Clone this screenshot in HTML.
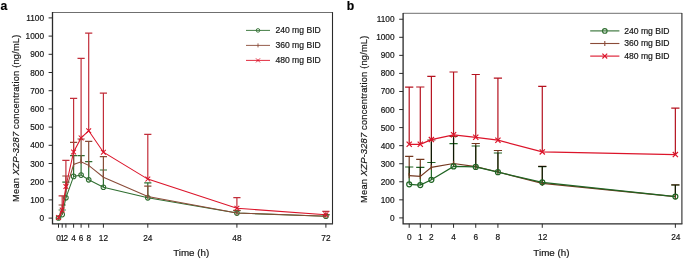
<!DOCTYPE html>
<html><head><meta charset="utf-8"><title>Figure</title>
<style>
html,body{margin:0;padding:0;background:#fff;}
body{width:685px;height:259px;overflow:hidden;}
svg{display:block;font-family:"Liberation Sans",sans-serif;filter:blur(0.4px);}
.tk{font-size:8.3px;}
.ax{font-size:9.8px;}
.yl{font-size:9.3px;letter-spacing:0.19px;}
.lg{font-size:8.6px;}
.pl{font-size:12.2px;font-weight:bold;fill:#000;}
.mb{mix-blend-mode:multiply;}
text{fill:#151515;stroke:#151515;stroke-width:0.18px;}
</style></head><body>
<svg width="685" height="259" viewBox="0 0 685 259">
<rect width="685" height="259" fill="#fff"/>
<path fill="none" stroke="#555" stroke-width="0.85" d="M52.5 12.5H332.5"/>
<path fill="none" stroke="#2a2a2a" stroke-width="1.1" d="M332.5 12.1V223.8"/>
<path fill="none" stroke="#2a2a2a" stroke-width="1.3" d="M52.5 12.1V223.8H333.05"/>
<path stroke="#2a2a2a" stroke-width="1" d="M48.6 218.1H52.5"/>
<text transform="translate(44 221.1) scale(1 1.06)" text-anchor="end" class="tk">0</text>
<path stroke="#2a2a2a" stroke-width="1" d="M48.6 199.9H52.5"/>
<text transform="translate(44 202.9) scale(1 1.06)" text-anchor="end" class="tk">100</text>
<path stroke="#2a2a2a" stroke-width="1" d="M48.6 181.7H52.5"/>
<text transform="translate(44 184.7) scale(1 1.06)" text-anchor="end" class="tk">200</text>
<path stroke="#2a2a2a" stroke-width="1" d="M48.6 163.5H52.5"/>
<text transform="translate(44 166.5) scale(1 1.06)" text-anchor="end" class="tk">300</text>
<path stroke="#2a2a2a" stroke-width="1" d="M48.6 145.3H52.5"/>
<text transform="translate(44 148.3) scale(1 1.06)" text-anchor="end" class="tk">400</text>
<path stroke="#2a2a2a" stroke-width="1" d="M48.6 127.1H52.5"/>
<text transform="translate(44 130.1) scale(1 1.06)" text-anchor="end" class="tk">500</text>
<path stroke="#2a2a2a" stroke-width="1" d="M48.6 108.9H52.5"/>
<text transform="translate(44 111.9) scale(1 1.06)" text-anchor="end" class="tk">600</text>
<path stroke="#2a2a2a" stroke-width="1" d="M48.6 90.7H52.5"/>
<text transform="translate(44 93.7) scale(1 1.06)" text-anchor="end" class="tk">700</text>
<path stroke="#2a2a2a" stroke-width="1" d="M48.6 72.5H52.5"/>
<text transform="translate(44 75.5) scale(1 1.06)" text-anchor="end" class="tk">800</text>
<path stroke="#2a2a2a" stroke-width="1" d="M48.6 54.3H52.5"/>
<text transform="translate(44 57.3) scale(1 1.06)" text-anchor="end" class="tk">900</text>
<path stroke="#2a2a2a" stroke-width="1" d="M48.6 36.1H52.5"/>
<text transform="translate(44 39.1) scale(1 1.06)" text-anchor="end" class="tk">1000</text>
<path stroke="#2a2a2a" stroke-width="1" d="M48.6 17.9H52.5"/>
<text transform="translate(44 20.9) scale(1 1.06)" text-anchor="end" class="tk">1100</text>
<path stroke="#2a2a2a" stroke-width="1" d="M58.5 223.8V227.7"/>
<path stroke="#2a2a2a" stroke-width="1" d="M62.2 223.8V227.7"/>
<path stroke="#2a2a2a" stroke-width="1" d="M65.9 223.8V227.7"/>
<path stroke="#2a2a2a" stroke-width="1" d="M73.6 223.8V227.7"/>
<path stroke="#2a2a2a" stroke-width="1" d="M81.1 223.8V227.7"/>
<path stroke="#2a2a2a" stroke-width="1" d="M88.7 223.8V227.7"/>
<path stroke="#2a2a2a" stroke-width="1" d="M103.4 223.8V227.7"/>
<path stroke="#2a2a2a" stroke-width="1" d="M147.8 223.8V227.7"/>
<path stroke="#2a2a2a" stroke-width="1" d="M236.9 223.8V227.7"/>
<path stroke="#2a2a2a" stroke-width="1" d="M325.9 223.8V227.7"/>
<path fill="none" stroke="#2f6e30" stroke-width="1.2" d="M62.2 214.6V210M58.6 210H65.8"/>
<path fill="none" stroke="#2f6e30" stroke-width="1.2" d="M65.9 197.8V182.1M62.3 182.1H69.5"/>
<path fill="none" stroke="#2f6e30" stroke-width="1.2" d="M73.6 176.4V155.7M70 155.7H77.2"/>
<path fill="none" stroke="#2f6e30" stroke-width="1.2" d="M81.1 175.1V155.6M77.5 155.6H84.7"/>
<path fill="none" stroke="#2f6e30" stroke-width="1.2" d="M88.7 179.8V161.7M85.1 161.7H92.3"/>
<path fill="none" stroke="#2f6e30" stroke-width="1.2" d="M103.4 187.2V170M99.8 170H107"/>
<path fill="none" stroke="#2f6e30" stroke-width="1.2" d="M147.8 197.8V182.9M144.2 182.9H151.4"/>
<path fill="none" stroke="#2f6e30" stroke-width="1.2" d="M236.9 213.1V210.6M233.3 210.6H240.5"/>
<path fill="none" stroke="#2f6e30" stroke-width="1.2" d="M325.9 216.2V214.8M322.3 214.8H329.5"/>
<path fill="none" stroke="#8a4b38" stroke-width="1.2" d="M62.2 212V205M58.6 205H65.8"/>
<path fill="none" stroke="#8a4b38" stroke-width="1.2" d="M65.9 190V176M62.3 176H69.5"/>
<path fill="none" stroke="#8a4b38" stroke-width="1.2" d="M73.6 164.5V142.4M70 142.4H77.2"/>
<path fill="none" stroke="#8a4b38" stroke-width="1.2" d="M81.1 161.7V139M77.5 139H84.7"/>
<path fill="none" stroke="#8a4b38" stroke-width="1.2" d="M88.7 165.4V141.4M85.1 141.4H92.3"/>
<path fill="none" stroke="#8a4b38" stroke-width="1.2" d="M103.4 177.2V156.6M99.8 156.6H107"/>
<path fill="none" stroke="#8a4b38" stroke-width="1.2" d="M147.8 196.6V186.1M144.2 186.1H151.4"/>
<path fill="none" stroke="#8a4b38" stroke-width="1.2" d="M236.9 213V210.4M233.3 210.4H240.5"/>
<path fill="none" stroke="#8a4b38" stroke-width="1.2" d="M325.9 216.2V214.5M322.3 214.5H329.5"/>
<path fill="none" stroke="#c22e3a" stroke-width="1.2" d="M62.2 210V195.8M58.6 195.8H65.8"/>
<path fill="none" stroke="#c22e3a" stroke-width="1.2" d="M65.9 186.5V160.3M62.3 160.3H69.5"/>
<path fill="none" stroke="#c22e3a" stroke-width="1.2" d="M73.6 152V98.4M70 98.4H77.2"/>
<path fill="none" stroke="#c22e3a" stroke-width="1.2" d="M81.1 137.9V58.4M77.5 58.4H84.7"/>
<path fill="none" stroke="#c22e3a" stroke-width="1.2" d="M88.7 130.8V33.2M85.1 33.2H92.3"/>
<path fill="none" stroke="#c22e3a" stroke-width="1.2" d="M103.4 152.2V93.2M99.8 93.2H107"/>
<path fill="none" stroke="#c22e3a" stroke-width="1.2" d="M147.8 179.1V134.4M144.2 134.4H151.4"/>
<path fill="none" stroke="#c22e3a" stroke-width="1.2" d="M236.9 208.3V197.6M233.3 197.6H240.5"/>
<path fill="none" stroke="#c22e3a" stroke-width="1.2" d="M325.9 214.7V211.3M322.3 211.3H329.5"/>
<polyline fill="none" stroke="#2f6e30" stroke-width="1.05" points="58.5,218 62.2,214.6 65.9,197.8 73.6,176.4 81.1,175.1 88.7,179.8 103.4,187.2 147.8,197.8 236.9,213.1 325.9,216.2"/>
<circle cx="58.5" cy="218" r="2.3" fill="none" stroke="#2f6e30" stroke-width="1.05"/>
<circle cx="62.2" cy="214.6" r="2.3" fill="none" stroke="#2f6e30" stroke-width="1.05"/>
<circle cx="65.9" cy="197.8" r="2.3" fill="none" stroke="#2f6e30" stroke-width="1.05"/>
<circle cx="73.6" cy="176.4" r="2.3" fill="none" stroke="#2f6e30" stroke-width="1.05"/>
<circle cx="81.1" cy="175.1" r="2.3" fill="none" stroke="#2f6e30" stroke-width="1.05"/>
<circle cx="88.7" cy="179.8" r="2.3" fill="none" stroke="#2f6e30" stroke-width="1.05"/>
<circle cx="103.4" cy="187.2" r="2.3" fill="none" stroke="#2f6e30" stroke-width="1.05"/>
<circle cx="147.8" cy="197.8" r="2.3" fill="none" stroke="#2f6e30" stroke-width="1.05"/>
<circle cx="236.9" cy="213.1" r="2.3" fill="none" stroke="#2f6e30" stroke-width="1.05"/>
<circle cx="325.9" cy="216.2" r="2.3" fill="none" stroke="#2f6e30" stroke-width="1.05"/>
<polyline fill="none" stroke="#8a4b38" stroke-width="1.05" points="58.5,217.8 62.2,212 65.9,190 73.6,164.5 81.1,161.7 88.7,165.4 103.4,177.2 147.8,196.6 236.9,213 325.9,216.2"/>
<path stroke="#8a4b38" stroke-width="1.05" d="M58.5 215.4V220.2"/>
<path stroke="#8a4b38" stroke-width="1.05" d="M62.2 209.6V214.4"/>
<path stroke="#8a4b38" stroke-width="1.05" d="M65.9 187.6V192.4"/>
<path stroke="#8a4b38" stroke-width="1.05" d="M73.6 162.1V166.9"/>
<path stroke="#8a4b38" stroke-width="1.05" d="M81.1 159.3V164.1"/>
<path stroke="#8a4b38" stroke-width="1.05" d="M88.7 163V167.8"/>
<path stroke="#8a4b38" stroke-width="1.05" d="M103.4 174.8V179.6"/>
<path stroke="#8a4b38" stroke-width="1.05" d="M147.8 194.2V199"/>
<path stroke="#8a4b38" stroke-width="1.05" d="M236.9 210.6V215.4"/>
<path stroke="#8a4b38" stroke-width="1.05" d="M325.9 213.8V218.6"/>
<polyline fill="none" stroke="#dc142a" stroke-width="1.05" points="58.5,217.5 62.2,210 65.9,186.5 73.6,152 81.1,137.9 88.7,130.8 103.4,152.2 147.8,179.1 236.9,208.3 325.9,214.7"/>
<path stroke="#dc142a" stroke-width="1.05" d="M56.1 215.1L60.9 219.9M56.1 219.9L60.9 215.1"/>
<path stroke="#dc142a" stroke-width="1.05" d="M59.8 207.6L64.6 212.4M59.8 212.4L64.6 207.6"/>
<path stroke="#dc142a" stroke-width="1.05" d="M63.5 184.1L68.3 188.9M63.5 188.9L68.3 184.1"/>
<path stroke="#dc142a" stroke-width="1.05" d="M71.2 149.6L76 154.4M71.2 154.4L76 149.6"/>
<path stroke="#dc142a" stroke-width="1.05" d="M78.7 135.5L83.5 140.3M78.7 140.3L83.5 135.5"/>
<path stroke="#dc142a" stroke-width="1.05" d="M86.3 128.4L91.1 133.2M86.3 133.2L91.1 128.4"/>
<path stroke="#dc142a" stroke-width="1.05" d="M101 149.8L105.8 154.6M101 154.6L105.8 149.8"/>
<path stroke="#dc142a" stroke-width="1.05" d="M145.4 176.7L150.2 181.5M145.4 181.5L150.2 176.7"/>
<path stroke="#dc142a" stroke-width="1.05" d="M234.5 205.9L239.3 210.7M234.5 210.7L239.3 205.9"/>
<path stroke="#dc142a" stroke-width="1.05" d="M323.5 212.3L328.3 217.1M323.5 217.1L328.3 212.3"/>
<text transform="translate(58.5 240.5) scale(1 1.06)" text-anchor="middle" class="tk">0</text>
<text transform="translate(62.2 240.5) scale(1 1.06)" text-anchor="middle" class="tk">1</text>
<text transform="translate(65.9 240.5) scale(1 1.06)" text-anchor="middle" class="tk">2</text>
<text transform="translate(73.6 240.5) scale(1 1.06)" text-anchor="middle" class="tk">4</text>
<text transform="translate(81.1 240.5) scale(1 1.06)" text-anchor="middle" class="tk">6</text>
<text transform="translate(88.7 240.5) scale(1 1.06)" text-anchor="middle" class="tk">8</text>
<text transform="translate(103.4 240.5) scale(1 1.06)" text-anchor="middle" class="tk">12</text>
<text transform="translate(147.8 240.5) scale(1 1.06)" text-anchor="middle" class="tk">24</text>
<text transform="translate(236.9 240.5) scale(1 1.06)" text-anchor="middle" class="tk">48</text>
<text transform="translate(325.9 240.5) scale(1 1.06)" text-anchor="middle" class="tk">72</text>
<text x="191.2" y="255.5" text-anchor="middle" class="ax">Time (h)</text>
<text transform="translate(19.3 118.2) rotate(-90)" text-anchor="middle" class="yl">Mean <tspan font-style="italic">XZP-3287</tspan> concentration (ng/mL)</text>
<text x="0.6" y="10" class="pl">a</text>
<path stroke="#2f6e30" stroke-width="0.9" d="M246 30.4H270"/>
<circle cx="258" cy="30.4" r="1.8" fill="none" stroke="#2f6e30" stroke-width="0.9"/>
<text x="275.4" y="33.15" class="lg">240 mg BID</text>
<path stroke="#8a4b38" stroke-width="0.9" d="M246 45.4H270"/>
<path stroke="#8a4b38" stroke-width="0.9" d="M258 43.4V47.4"/>
<text x="275.4" y="48.15" class="lg">360 mg BID</text>
<path stroke="#dc142a" stroke-width="0.9" d="M246 60.4H270"/>
<path stroke="#dc142a" stroke-width="0.9" d="M256 58.4L260 62.4M256 62.4L260 58.4"/>
<text x="275.4" y="63.15" class="lg">480 mg BID</text>
<path fill="none" stroke="#555" stroke-width="0.85" d="M403.1 13.3H681.9"/>
<path fill="none" stroke="#2a2a2a" stroke-width="1.1" d="M681.9 12.9V223.8"/>
<path fill="none" stroke="#2a2a2a" stroke-width="1.3" d="M403.1 12.9V223.8H682.45"/>
<path stroke="#2a2a2a" stroke-width="1" d="M399.2 217.9H403.1"/>
<text transform="translate(394.6 220.9) scale(1 1.06)" text-anchor="end" class="tk">0</text>
<path stroke="#2a2a2a" stroke-width="1" d="M399.2 199.84H403.1"/>
<text transform="translate(394.6 202.84) scale(1 1.06)" text-anchor="end" class="tk">100</text>
<path stroke="#2a2a2a" stroke-width="1" d="M399.2 181.78H403.1"/>
<text transform="translate(394.6 184.78) scale(1 1.06)" text-anchor="end" class="tk">200</text>
<path stroke="#2a2a2a" stroke-width="1" d="M399.2 163.72H403.1"/>
<text transform="translate(394.6 166.72) scale(1 1.06)" text-anchor="end" class="tk">300</text>
<path stroke="#2a2a2a" stroke-width="1" d="M399.2 145.66H403.1"/>
<text transform="translate(394.6 148.66) scale(1 1.06)" text-anchor="end" class="tk">400</text>
<path stroke="#2a2a2a" stroke-width="1" d="M399.2 127.6H403.1"/>
<text transform="translate(394.6 130.6) scale(1 1.06)" text-anchor="end" class="tk">500</text>
<path stroke="#2a2a2a" stroke-width="1" d="M399.2 109.54H403.1"/>
<text transform="translate(394.6 112.54) scale(1 1.06)" text-anchor="end" class="tk">600</text>
<path stroke="#2a2a2a" stroke-width="1" d="M399.2 91.48H403.1"/>
<text transform="translate(394.6 94.48) scale(1 1.06)" text-anchor="end" class="tk">700</text>
<path stroke="#2a2a2a" stroke-width="1" d="M399.2 73.42H403.1"/>
<text transform="translate(394.6 76.42) scale(1 1.06)" text-anchor="end" class="tk">800</text>
<path stroke="#2a2a2a" stroke-width="1" d="M399.2 55.36H403.1"/>
<text transform="translate(394.6 58.36) scale(1 1.06)" text-anchor="end" class="tk">900</text>
<path stroke="#2a2a2a" stroke-width="1" d="M399.2 37.3H403.1"/>
<text transform="translate(394.6 40.3) scale(1 1.06)" text-anchor="end" class="tk">1000</text>
<path stroke="#2a2a2a" stroke-width="1" d="M399.2 19.24H403.1"/>
<text transform="translate(394.6 22.24) scale(1 1.06)" text-anchor="end" class="tk">1100</text>
<path stroke="#2a2a2a" stroke-width="1" d="M409.2 223.8V227.8"/>
<path stroke="#2a2a2a" stroke-width="1" d="M420.29 223.8V227.8"/>
<path stroke="#2a2a2a" stroke-width="1" d="M431.38 223.8V227.8"/>
<path stroke="#2a2a2a" stroke-width="1" d="M453.56 223.8V227.8"/>
<path stroke="#2a2a2a" stroke-width="1" d="M475.74 223.8V227.8"/>
<path stroke="#2a2a2a" stroke-width="1" d="M497.92 223.8V227.8"/>
<path stroke="#2a2a2a" stroke-width="1" d="M542.28 223.8V227.8"/>
<path stroke="#2a2a2a" stroke-width="1" d="M675.36 223.8V227.8"/>
<path fill="none" class="mb" stroke="#74381f" stroke-width="1.2" d="M409.2 175.7V156.3M405.1 156.3H413.3"/>
<path fill="none" class="mb" stroke="#74381f" stroke-width="1.2" d="M420.29 176.4V159.3M416.19 159.3H424.39"/>
<path fill="none" class="mb" stroke="#74381f" stroke-width="1.2" d="M431.38 167.3V140M427.28 140H435.48"/>
<path fill="none" class="mb" stroke="#74381f" stroke-width="1.2" d="M453.56 163.5V136.5M449.46 136.5H457.66"/>
<path fill="none" class="mb" stroke="#74381f" stroke-width="1.2" d="M475.74 166.6V143.5M471.64 143.5H479.84"/>
<path fill="none" class="mb" stroke="#74381f" stroke-width="1.2" d="M497.92 172V150.5M493.82 150.5H502.02"/>
<path fill="none" class="mb" stroke="#74381f" stroke-width="1.2" d="M542.28 183.3V166.4M538.18 166.4H546.38"/>
<path fill="none" class="mb" stroke="#74381f" stroke-width="1.2" d="M675.36 196.7V184.8M671.26 184.8H679.46"/>
<path fill="none" class="mb" stroke="#1f6423" stroke-width="1.2" d="M409.2 184.3V167M405.1 167H413.3"/>
<path fill="none" class="mb" stroke="#1f6423" stroke-width="1.2" d="M420.29 185.1V167.4M416.19 167.4H424.39"/>
<path fill="none" class="mb" stroke="#1f6423" stroke-width="1.2" d="M431.38 179.8V162.5M427.28 162.5H435.48"/>
<path fill="none" class="mb" stroke="#1f6423" stroke-width="1.2" d="M453.56 166.4V143.7M449.46 143.7H457.66"/>
<path fill="none" class="mb" stroke="#1f6423" stroke-width="1.2" d="M475.74 166.9V146M471.64 146H479.84"/>
<path fill="none" class="mb" stroke="#1f6423" stroke-width="1.2" d="M497.92 172.2V153M493.82 153H502.02"/>
<path fill="none" class="mb" stroke="#1f6423" stroke-width="1.2" d="M542.28 182.3V166.6M538.18 166.6H546.38"/>
<path fill="none" class="mb" stroke="#1f6423" stroke-width="1.2" d="M675.36 196.6V185M671.26 185H679.46"/>
<path fill="none" stroke="#b5121f" stroke-width="1.2" d="M409.2 144.3V87.1M405.1 87.1H413.3"/>
<path fill="none" stroke="#b5121f" stroke-width="1.2" d="M420.29 144.3V87M416.19 87H424.39"/>
<path fill="none" stroke="#b5121f" stroke-width="1.2" d="M431.38 139.6V76.4M427.28 76.4H435.48"/>
<path fill="none" stroke="#b5121f" stroke-width="1.2" d="M453.56 134.8V72M449.46 72H457.66"/>
<path fill="none" stroke="#b5121f" stroke-width="1.2" d="M475.74 137.3V74.5M471.64 74.5H479.84"/>
<path fill="none" stroke="#b5121f" stroke-width="1.2" d="M497.92 140.2V78.1M493.82 78.1H502.02"/>
<path fill="none" stroke="#b5121f" stroke-width="1.2" d="M542.28 151.9V86.3M538.18 86.3H546.38"/>
<path fill="none" stroke="#b5121f" stroke-width="1.2" d="M675.36 154.6V108.1M671.26 108.1H679.46"/>
<polyline fill="none" stroke="#74381f" stroke-width="1.2" points="409.2,175.7 420.29,176.4 431.38,167.3 453.56,163.5 475.74,166.6 497.92,172 542.28,183.3 675.36,196.7"/>
<path stroke="#74381f" stroke-width="1.2" d="M409.2 173.1V178.3"/>
<path stroke="#74381f" stroke-width="1.2" d="M420.29 173.8V179"/>
<path stroke="#74381f" stroke-width="1.2" d="M431.38 164.7V169.9"/>
<path stroke="#74381f" stroke-width="1.2" d="M453.56 160.9V166.1"/>
<path stroke="#74381f" stroke-width="1.2" d="M475.74 164V169.2"/>
<path stroke="#74381f" stroke-width="1.2" d="M497.92 169.4V174.6"/>
<path stroke="#74381f" stroke-width="1.2" d="M542.28 180.7V185.9"/>
<path stroke="#74381f" stroke-width="1.2" d="M675.36 194.1V199.3"/>
<polyline fill="none" stroke="#1f6423" stroke-width="1.2" points="409.2,184.3 420.29,185.1 431.38,179.8 453.56,166.4 475.74,166.9 497.92,172.2 542.28,182.3 675.36,196.6"/>
<circle cx="409.2" cy="184.3" r="2.5" fill="none" stroke="#1f6423" stroke-width="1.2"/>
<circle cx="420.29" cy="185.1" r="2.5" fill="none" stroke="#1f6423" stroke-width="1.2"/>
<circle cx="431.38" cy="179.8" r="2.5" fill="none" stroke="#1f6423" stroke-width="1.2"/>
<circle cx="453.56" cy="166.4" r="2.5" fill="none" stroke="#1f6423" stroke-width="1.2"/>
<circle cx="475.74" cy="166.9" r="2.5" fill="none" stroke="#1f6423" stroke-width="1.2"/>
<circle cx="497.92" cy="172.2" r="2.5" fill="none" stroke="#1f6423" stroke-width="1.2"/>
<circle cx="542.28" cy="182.3" r="2.5" fill="none" stroke="#1f6423" stroke-width="1.2"/>
<circle cx="675.36" cy="196.6" r="2.5" fill="none" stroke="#1f6423" stroke-width="1.2"/>
<polyline fill="none" stroke="#dc142a" stroke-width="1.2" points="409.2,144.3 420.29,144.3 431.38,139.6 453.56,134.8 475.74,137.3 497.92,140.2 542.28,151.9 675.36,154.6"/>
<path stroke="#dc142a" stroke-width="1.2" d="M406.6 141.7L411.8 146.9M406.6 146.9L411.8 141.7"/>
<path stroke="#dc142a" stroke-width="1.2" d="M417.69 141.7L422.89 146.9M417.69 146.9L422.89 141.7"/>
<path stroke="#dc142a" stroke-width="1.2" d="M428.78 137L433.98 142.2M428.78 142.2L433.98 137"/>
<path stroke="#dc142a" stroke-width="1.2" d="M450.96 132.2L456.16 137.4M450.96 137.4L456.16 132.2"/>
<path stroke="#dc142a" stroke-width="1.2" d="M473.14 134.7L478.34 139.9M473.14 139.9L478.34 134.7"/>
<path stroke="#dc142a" stroke-width="1.2" d="M495.32 137.6L500.52 142.8M495.32 142.8L500.52 137.6"/>
<path stroke="#dc142a" stroke-width="1.2" d="M539.68 149.3L544.88 154.5M539.68 154.5L544.88 149.3"/>
<path stroke="#dc142a" stroke-width="1.2" d="M672.76 152L677.96 157.2M672.76 157.2L677.96 152"/>
<path class="mb" stroke="#1f6423" stroke-width="1.2" d="M431.38 162.5V142.0"/>
<path class="mb" stroke="#1f6423" stroke-width="1.2" d="M453.56 143.7V137.3"/>
<text transform="translate(409.2 240.3) scale(1 1.06)" text-anchor="middle" class="tk">0</text>
<text transform="translate(420.29 240.3) scale(1 1.06)" text-anchor="middle" class="tk">1</text>
<text transform="translate(431.38 240.3) scale(1 1.06)" text-anchor="middle" class="tk">2</text>
<text transform="translate(453.56 240.3) scale(1 1.06)" text-anchor="middle" class="tk">4</text>
<text transform="translate(475.74 240.3) scale(1 1.06)" text-anchor="middle" class="tk">6</text>
<text transform="translate(497.92 240.3) scale(1 1.06)" text-anchor="middle" class="tk">8</text>
<text transform="translate(542.68 240.3) scale(1 1.06)" text-anchor="middle" class="tk">12</text>
<text transform="translate(675.76 240.3) scale(1 1.06)" text-anchor="middle" class="tk">24</text>
<text x="551.4" y="255.5" text-anchor="middle" class="ax">Time (h)</text>
<text transform="translate(367.2 119.2) rotate(-90)" text-anchor="middle" class="yl">Mean <tspan font-style="italic">XZP-3287</tspan> concentration (ng/mL)</text>
<text x="346.8" y="10.1" class="pl">b</text>
<path stroke="#2f6e30" stroke-width="1.1" d="M590.2 30.9H619.4"/>
<circle cx="604.8" cy="30.9" r="2.3" fill="none" stroke="#2f6e30" stroke-width="1.1"/>
<text x="624.2" y="33.65" class="lg">240 mg BID</text>
<path stroke="#8a4b38" stroke-width="1.1" d="M590.2 43.5H619.4"/>
<path stroke="#8a4b38" stroke-width="1.1" d="M604.8 41.1V45.9"/>
<text x="624.2" y="46.25" class="lg">360 mg BID</text>
<path stroke="#dc142a" stroke-width="1.1" d="M590.2 56.1H619.4"/>
<path stroke="#dc142a" stroke-width="1.1" d="M602.4 53.7L607.2 58.5M602.4 58.5L607.2 53.7"/>
<text x="624.2" y="58.85" class="lg">480 mg BID</text>
</svg>
</body></html>
